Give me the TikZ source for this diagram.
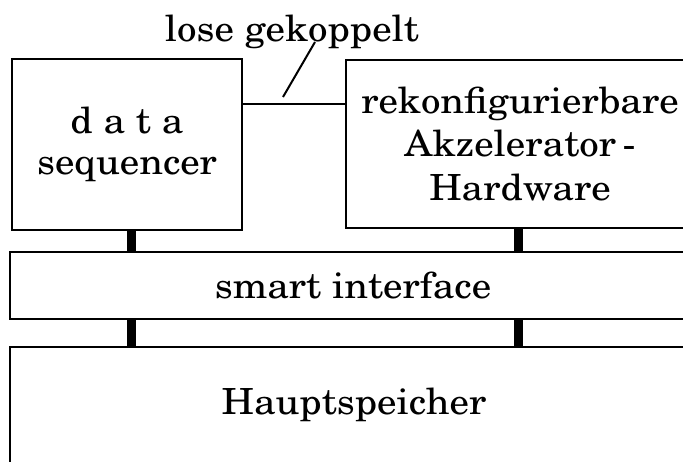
\documentclass[tikz,border=0pt]{standalone}
\usepackage[T1]{fontenc}
\usepackage{newcent}
\usepackage{graphicx}
% slightly widened lettering
\newcommand\widetxt[1]{\scalebox{1.08}[1]{#1}}
\begin{document}
\begin{tikzpicture}[x=1pt,y=-1pt,
  txt/.style={font=\fontsize{36}{43.5}\selectfont},
  box/.style={draw,line width=2.6pt,inner sep=0pt,align=center,txt},
  bus/.style={line width=9pt},
  thin/.style={line width=2.6pt}]
  \useasboundingbox (0,0) rectangle (683,461);
  \clip (0,0) rectangle (683,461);
  % blocks
  \node[box,minimum width=230pt,minimum height=171pt,
    font=\fontsize{36}{41.5}\selectfont] (ds) at (127,144.5)
    {\widetxt{d a t a}\\\widetxt{sequencer}};
  \node[box,minimum width=348pt,minimum height=168pt] (rh) at (520,144)
    {\widetxt{rekonfigurierbare}\\\widetxt{Akzelerator\,-}\\\widetxt{Hardware}};
  \node[box,minimum width=686pt,minimum height=67pt] (si) at (353,285.5)
    {\widetxt{smart interface}};
  \node[box,minimum width=688pt,minimum height=116pt] (hs) at (354,405)
    {\widetxt{Hauptspeicher}};
  % loose coupling
  \node[txt,anchor=base] (lbl) at (292,41) {\widetxt{lose gekoppelt}};
  \coordinate (cy) at (0,104);
  \coordinate (tip) at (283,97);
  \coordinate (top) at (315,42);
  \draw[thin] (ds.east |- cy) -- (rh.west |- cy);
  \draw[line width=2pt] (tip) -- (top);
  % bus connections
  \coordinate (b1) at (131,0);
  \coordinate (b2) at (518,0);
  \draw[bus] (ds.south -| b1) -- (si.north -| b1);
  \draw[bus] (rh.south -| b2) -- (si.north -| b2);
  \draw[bus] (si.south -| b1) -- (hs.north -| b1);
  \draw[bus] (si.south -| b2) -- (hs.north -| b2);
\end{tikzpicture}
\end{document}
